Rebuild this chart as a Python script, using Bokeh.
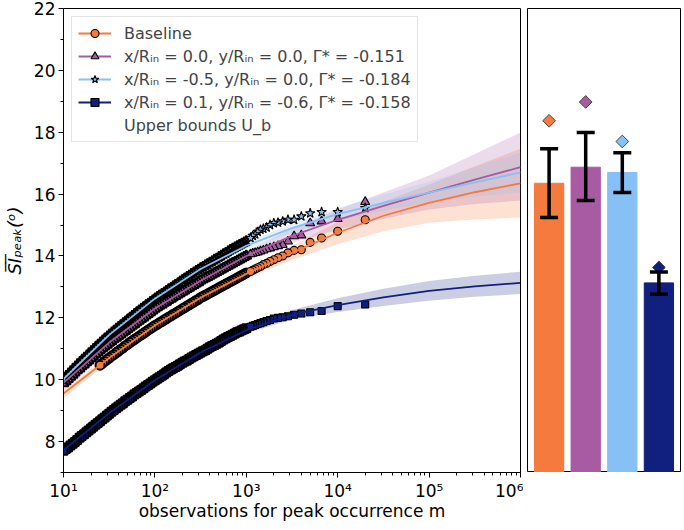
import numpy as np
from bokeh.plotting import figure
from bokeh.layouts import row
from bokeh.models import (ColumnDataSource, Range1d, FixedTicker, Legend, LegendItem,
                          Whisker, TeeHead)
from bokeh.embed import file_html
from bokeh.resources import INLINE

# ---------------- data ----------------
SERIES = ["Baseline",
          "x/Rᵢₙ = 0.0, y/Rᵢₙ = 0.0, Γ* = -0.151",
          "x/Rᵢₙ = -0.5, y/Rᵢₙ = 0.0, Γ* = -0.184",
          "x/Rᵢₙ = 0.1, y/Rᵢₙ = -0.6, Γ* = -0.158"]
UB_LABEL = "Upper bounds U_b"
COLORS = ["#F47A3D", "#A85AA2", "#86C0F5", "#111F7E"]

# fitted curves (m, value, lower, upper)
FIT_M = [10, 31.6, 100, 316, 1000, 3162, 10000, 31623, 100000, 316228, 1000000]
BASE_FIT = [9.55, 10.7, 11.75, 12.65, 13.42, 14.1, 14.75, 15.3, 15.72, 16.06, 16.35]
BASE_LO = [9.4, 10.6, 11.66, 12.55, 13.28, 13.87, 14.38, 14.8, 15.07, 15.18, 15.24]
BASE_HI = [9.7, 10.8, 11.84, 12.75, 13.56, 14.33, 15.1, 15.75, 16.3, 16.9, 17.47]
P1_FIT = [9.9, 11.2, 12.3, 13.2, 14.0, 14.65, 15.17, 15.62, 16.05, 16.47, 16.87]
P1_LO = [9.8, 11.12, 12.22, 13.1, 13.85, 14.42, 14.85, 15.2, 15.5, 15.68, 15.79]
P1_HI = [10.0, 11.28, 12.38, 13.3, 14.15, 14.9, 15.5, 16.05, 16.6, 17.3, 17.99]
P2_FIT = [10.02, 11.45, 12.62, 13.58, 14.33, 14.9, 15.35, 15.72, 16.05, 16.38, 16.7]
P2_LO = [9.9, 11.35, 12.55, 13.5, 14.22, 14.75, 15.15, 15.47, 15.73, 15.92, 16.05]
P2_HI = [10.14, 11.55, 12.7, 13.66, 14.44, 15.05, 15.55, 15.98, 16.4, 16.87, 17.34]
P3_FIT = [7.72, 8.92, 9.98, 10.88, 11.6, 12.1, 12.41, 12.66, 12.87, 13.02, 13.13]
P3_LO = [7.6, 8.84, 9.91, 10.8, 11.5, 11.95, 12.19, 12.38, 12.55, 12.68, 12.77]
P3_HI = [7.84, 9.0, 10.05, 10.96, 11.7, 12.25, 12.63, 12.94, 13.19, 13.36, 13.49]

# observations (block size m)
OBS_M = [20000, 10000, 6667, 5000, 4000, 3333, 2857, 2500, 2222, 2000, 1818, 1667, 1538,
         1429, 1333, 1250, 1176, 1111,
         1000, 944, 891, 841, 794, 750, 708, 668, 631, 596, 562, 531, 501, 473, 447, 422,
         398, 376, 355, 335, 316, 299, 282, 266, 251, 237, 224, 211, 200, 188, 178, 168,
         158, 150, 141, 133, 126, 119, 112, 106, 100, 94.4, 89.1, 84.1, 79.4, 75.0, 70.8,
         66.8, 63.1, 59.6, 56.2, 53.1, 50.1, 47.3, 44.7, 42.2, 39.8, 37.6, 35.5, 33.5,
         31.6, 29.9, 28.2, 26.6, 25.1, 23.7, 22.4, 21.1, 20.0, 18.8, 17.8, 16.8, 15.8,
         15.0, 14.1, 13.3, 12.6, 11.9, 11.2, 10.6, 10.0]
OBS_M_BASE = OBS_M[:83]
BASE_OBS = [15.17, 14.8, 14.58, 14.44, 14.2, 14.18, 14.1, 14.0, 13.94, 13.88, 13.82, 13.76,
            13.72, 13.66, 13.62, 13.58, 13.54, 13.5,
            13.45, 13.41, 13.37, 13.33, 13.29, 13.25, 13.21, 13.17, 13.13, 13.09,
            13.05, 13.01, 12.97, 12.93, 12.89, 12.85, 12.81, 12.77, 12.73, 12.69,
            12.65, 12.6, 12.56, 12.51, 12.47, 12.42, 12.38, 12.33, 12.29, 12.24,
            12.2, 12.15, 12.11, 12.06, 12.02, 11.97, 11.93, 11.88, 11.84, 11.79,
            11.75, 11.7, 11.65, 11.6, 11.55, 11.5, 11.45, 11.4, 11.35, 11.3,
            11.25, 11.2, 11.14, 11.09, 11.03, 10.98, 10.92, 10.87, 10.81, 10.76,
            10.7, 10.65, 10.59, 10.53, 10.47]
P1_OBS = [15.75, 15.2, 15.12, 15.06, 14.67, 14.64, 14.47, 14.36, 14.32, 14.29, 14.25, 14.22,
          14.18, 14.15, 14.12, 14.1, 14.08, 14.06,
          14.0, 13.96, 13.92, 13.88, 13.84, 13.8, 13.76, 13.72, 13.68, 13.64,
          13.6, 13.56, 13.52, 13.48, 13.44, 13.4, 13.36, 13.32, 13.28, 13.24,
          13.2, 13.15, 13.11, 13.06, 13.02, 12.97, 12.93, 12.88, 12.84, 12.79,
          12.75, 12.7, 12.66, 12.61, 12.57, 12.52, 12.48, 12.43, 12.39, 12.34,
          12.29, 12.23, 12.18, 12.12, 12.07, 12.01, 11.96, 11.9, 11.85, 11.79,
          11.74, 11.68, 11.63, 11.57, 11.52, 11.46, 11.41, 11.35, 11.3, 11.24,
          11.19, 11.13, 11.07, 11.01, 10.95, 10.88, 10.82, 10.75, 10.69, 10.62,
          10.56, 10.49, 10.43, 10.36, 10.3, 10.23, 10.16, 10.09, 10.02, 9.95, 9.88]
P2_OBS = [15.55, 15.42, 15.42, 15.38, 15.28, 15.17, 15.17, 15.12, 15.08, 15.06, 15.0, 14.92,
          14.88, 14.85, 14.78, 14.7, 14.65, 14.58,
          14.48, 14.44, 14.4, 14.36, 14.32, 14.28, 14.24, 14.2, 14.15, 14.1,
          14.06, 14.01, 13.97, 13.92, 13.88, 13.83, 13.79, 13.74, 13.7, 13.65,
          13.61, 13.56, 13.52, 13.47, 13.42, 13.37, 13.32, 13.27, 13.22, 13.17,
          13.12, 13.07, 13.02, 12.97, 12.92, 12.87, 12.82, 12.77, 12.72, 12.67,
          12.62, 12.56, 12.51, 12.45, 12.4, 12.34, 12.29, 12.23, 12.17, 12.11,
          12.05, 11.99, 11.93, 11.87, 11.81, 11.75, 11.69, 11.63, 11.57, 11.5,
          11.44, 11.37, 11.31, 11.24, 11.17, 11.1, 11.03, 10.96, 10.89, 10.82,
          10.75, 10.68, 10.61, 10.53, 10.46, 10.38, 10.31, 10.23, 10.16, 10.08, 10.0]
P3_OBS = [12.43, 12.38, 12.22, 12.18, 12.14, 12.1, 12.05, 12.02, 12.0, 11.98, 11.93, 11.9,
          11.86, 11.83, 11.8, 11.77, 11.74, 11.71,
          11.66, 11.63, 11.6, 11.56, 11.53, 11.49, 11.45, 11.41, 11.38, 11.34,
          11.3, 11.25, 11.2, 11.16, 11.12, 11.09, 11.05, 11.0, 10.95, 10.92,
          10.88, 10.84, 10.8, 10.76, 10.72, 10.67, 10.62, 10.59, 10.55, 10.5,
          10.45, 10.41, 10.37, 10.33, 10.28, 10.23, 10.18, 10.13, 10.08, 10.03,
          9.98, 9.93, 9.88, 9.83, 9.78, 9.72, 9.67, 9.62, 9.57, 9.52,
          9.46, 9.41, 9.35, 9.3, 9.24, 9.19, 9.13, 9.08, 9.02, 8.96,
          8.9, 8.84, 8.78, 8.72, 8.66, 8.6, 8.54, 8.48, 8.42, 8.36,
          8.3, 8.24, 8.18, 8.12, 8.05, 7.99, 7.93, 7.87, 7.81, 7.76, 7.7]

# bar panel (value at m = 10^6, interval, upper bound)
BAR_X = [0, 1, 2, 3]
BAR_VAL = [16.35, 16.87, 16.7, 13.13]
BAR_LO = [15.24, 15.79, 16.05, 12.76]
BAR_HI = [17.47, 17.99, 17.34, 13.48]
UPPER_B = [18.37, 18.98, 17.70, 13.63]

X_TICKS = [10, 100, 1000, 10000, 100000, 1000000]
X_TICK_LABELS = ["10¹", "10²", "10³", "10⁴", "10⁵", "10⁶"]
Y_TICKS = [8, 10, 12, 14, 16, 18, 20, 22]

FONT = "DejaVu Sans"
N_SPARSE = 18   # points drawn with thin outlines (large m); the rest overlap densely

# ---------------- main panel ----------------
p = figure(x_axis_type="log", frame_width=457, frame_height=464,
           x_range=Range1d(10, 1e6), y_range=Range1d(7, 22),
           min_border_left=61, min_border_top=8, min_border_right=3,
           min_border_bottom=10, output_backend="svg", toolbar_location=None)
p.grid.visible = False
p.outline_line_color = "black"
p.outline_line_width = 1

minor_x = [k * 10 ** e for e in range(1, 6) for k in range(2, 10)]
p.xaxis.ticker = FixedTicker(ticks=X_TICKS, minor_ticks=minor_x)
p.xaxis.major_label_overrides = {float(t): l for t, l in zip(X_TICKS, X_TICK_LABELS)}
p.yaxis.ticker = FixedTicker(ticks=Y_TICKS, minor_ticks=[7, 9, 11, 13, 15, 17, 19, 21])
for ax in (p.xaxis, p.yaxis):
    ax.axis_line_color = "black"
    ax.major_tick_line_color = "black"
    ax.minor_tick_line_color = "black"
    ax.major_tick_out = 5
    ax.major_tick_in = 0
    ax.minor_tick_out = 3
    ax.minor_tick_in = 0
    ax.major_label_text_font = FONT
    ax.major_label_text_font_size = "17px"
    ax.major_label_text_color = "black"
    ax.axis_label_text_font = FONT
    ax.axis_label_text_font_size = "17px"
    ax.axis_label_text_color = "black"
    ax.axis_label_text_font_style = "normal"
    ax.major_label_standoff = 3
p.xaxis.axis_label = "observations for peak occurrence m"
p.xaxis.axis_label_standoff = -3
p.yaxis.axis_label = "S̅I̅ₚₑₐₖ(ᵒ)"
p.yaxis.axis_label_standoff = 6
p.yaxis.axis_label_text_font_style = "italic"
p.yaxis.axis_label_text_font_size = "18px"

fits = [(BASE_FIT, BASE_LO, BASE_HI), (P1_FIT, P1_LO, P1_HI),
        (P2_FIT, P2_LO, P2_HI), (P3_FIT, P3_LO, P3_HI)]
obs = [(OBS_M_BASE, BASE_OBS), (OBS_M, P1_OBS), (OBS_M, P2_OBS), (OBS_M, P3_OBS)]
markers = [("circle", 8), ("triangle", 9), ("star", 10), ("square", 7)]

for (f, lo, hi), c in zip(fits, COLORS):
    p.varea(x=FIT_M, y1=lo, y2=hi, fill_color=c, fill_alpha=0.22)

scat = []
for (mx, my), c, (mk, sz) in zip(obs, COLORS, markers):
    # densely overlapping observations (small m)
    p.scatter(x=mx[N_SPARSE:], y=my[N_SPARSE:], marker=mk, size=sz + 1, fill_color=c,
              line_color="black", line_width=2)
    r = p.scatter(x=mx[:N_SPARSE], y=my[:N_SPARSE], marker=mk, size=sz, fill_color=c,
                  line_color="black", line_width=1.1)
    scat.append(r)

lines = []
for (f, lo, hi), c in zip(fits, COLORS):
    r = p.line(x=FIT_M, y=f, line_color=c, line_width=1.8)
    lines.append(r)

ub_dummy = p.scatter(x=[], y=[], marker="square", angle=np.pi / 4, size=8,
                     fill_color="white", line_color="black", line_width=1)

items = [LegendItem(label=s, renderers=[l, r]) for s, l, r in zip(SERIES, lines, scat)]
items.append(LegendItem(label=UB_LABEL, renderers=[ub_dummy]))
legend = Legend(items=items, location="top_left", margin=8, padding=6, spacing=3,
                glyph_width=33, glyph_height=20, label_standoff=13,
                label_text_font=FONT, label_text_font_size="16px",
                border_line_color="#cccccc", border_line_width=1,
                background_fill_alpha=0.8)
p.add_layout(legend)

# ---------------- bar panel ----------------
q = figure(frame_width=153, frame_height=464, x_range=Range1d(-0.59, 3.59),
           y_range=Range1d(7, 22), min_border_left=4, min_border_right=1,
           min_border_top=8, min_border_bottom=0, output_backend="svg",
           toolbar_location=None)
q.axis.visible = False
q.grid.visible = False
q.outline_line_color = "black"

src = ColumnDataSource(dict(x=BAR_X, top=BAR_VAL, lo=BAR_LO, hi=BAR_HI, ub=UPPER_B,
                            color=COLORS))
q.vbar(x="x", top="top", bottom=0, width=0.8, fill_color="color", line_color="color",
       source=src)
q.scatter(x="x", y="ub", marker="square", angle=np.pi / 4, size=9, fill_color="color",
          line_color="#444444", line_width=1, source=src)
w = Whisker(base="x", upper="hi", lower="lo", source=src, line_color="black",
            line_width=3.5, level="overlay",
            upper_head=TeeHead(size=18, line_width=3.5, line_color="black"),
            lower_head=TeeHead(size=18, line_width=3.5, line_color="black"))
q.add_layout(w)

layout = row(p, q)
open("out.html", "w").write(file_html(layout, INLINE))
